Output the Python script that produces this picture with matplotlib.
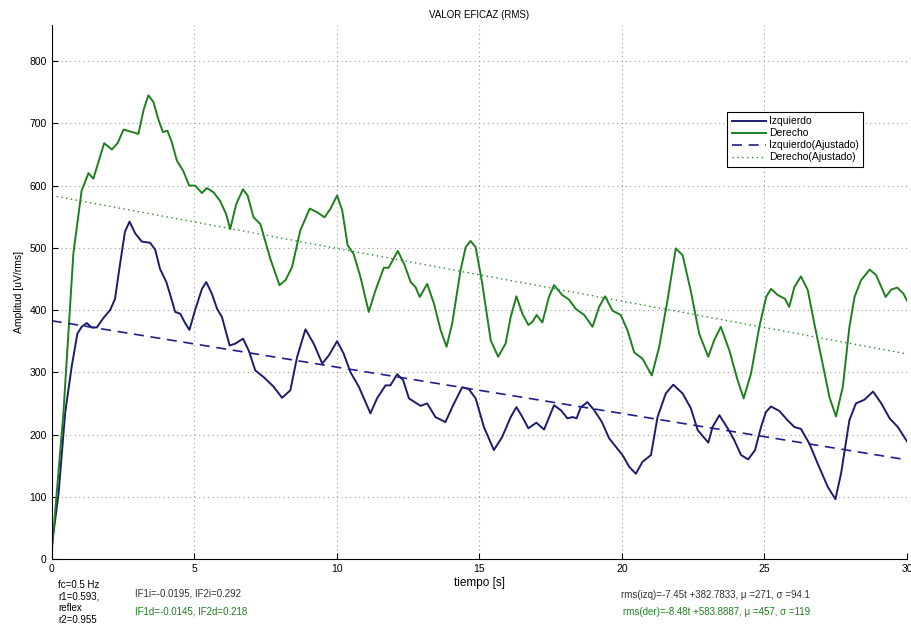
import numpy as np
import matplotlib.pyplot as plt

plt.rcParams['font.family'] = ['Liberation Sans', 'DejaVu Sans']

# RMS curves (time in s, amplitude in uV/rms)
t_izq = [0, 0.24, 0.47, 0.70, 0.90, 1.05, 1.23, 1.40, 1.58, 1.81, 2.05, 2.22, 2.40, 2.57, 2.73,
         2.93, 3.16, 3.45, 3.63, 3.80, 4.02, 4.18, 4.33, 4.51, 4.68, 4.83, 5.03, 5.27, 5.42, 5.62,
         5.80, 5.97, 6.24, 6.44, 6.71, 6.91, 7.14, 7.44, 7.78, 8.08, 8.37, 8.61, 8.90, 9.19, 9.49,
         9.72, 10.01, 10.24, 10.48, 10.77, 11.18, 11.41, 11.71, 11.88, 12.12, 12.33, 12.53, 12.94,
         13.17, 13.46, 13.81, 14.08, 14.40, 14.63, 14.87, 15.16, 15.51, 15.80, 16.10, 16.30, 16.51,
         16.72, 17.00, 17.27, 17.62, 17.86, 18.09, 18.27, 18.41, 18.56, 18.79, 19.03, 19.30, 19.55,
         20.02, 20.26, 20.49, 20.72, 21.02, 21.25, 21.54, 21.80, 22.13, 22.42, 22.66, 23.03, 23.18,
         23.42, 23.71, 23.94, 24.18, 24.43, 24.67, 24.88, 25.05, 25.23, 25.52, 25.81, 26.05, 26.28,
         26.58, 26.87, 27.22, 27.49, 27.69, 27.98, 28.21, 28.51, 28.81, 29.10, 29.39, 29.68, 30.0]
izquierdo = [20, 105, 234, 309, 362, 373, 379, 372, 372, 387, 400, 418, 475, 526, 542,
             523, 510, 508, 497, 466, 445, 421, 397, 394, 379, 368, 400, 434, 445, 426,
             402, 389, 343, 346, 354, 335, 303, 292, 277, 259, 271, 325, 369, 346, 314,
             327, 350, 330, 300, 277, 234, 258, 279, 279, 297, 287, 258, 246,
             250, 228, 220, 247, 276, 273, 258, 212, 175, 196, 228, 244, 228,
             210, 219, 208, 247, 239, 226, 228, 226, 244, 252, 239, 220, 194,
             167, 148, 137, 156, 167, 228, 266, 280, 266, 242, 207, 187, 212,
             231, 210, 191, 167, 160, 175, 212, 236, 245, 238, 223, 212, 209,
             185, 153, 116, 96, 138, 223, 250, 256, 269, 250, 226, 212, 189]

t_der = [0, 0.41, 0.76, 1.05, 1.29, 1.46, 1.84, 2.11, 2.31, 2.52, 2.81, 3.04, 3.22, 3.39, 3.57,
         3.75, 3.90, 4.06, 4.21, 4.39, 4.62, 4.82, 5.03, 5.27, 5.44, 5.68, 5.91, 6.12, 6.26, 6.47,
         6.71, 6.87, 7.08, 7.32, 7.67, 7.99, 8.20, 8.43, 8.72, 9.05, 9.31, 9.57, 9.78, 10.01, 10.19,
         10.38, 10.59, 10.83, 11.12, 11.36, 11.65, 11.82, 12.14, 12.38, 12.59, 12.76, 12.91, 13.17,
         13.41, 13.64, 13.85, 14.05, 14.34, 14.52, 14.69, 14.87, 15.10, 15.40, 15.66, 15.92, 16.10,
         16.30, 16.51, 16.72, 16.86, 17.01, 17.21, 17.44, 17.62, 17.91, 18.14, 18.38, 18.68, 18.97,
         19.20, 19.41, 19.67, 19.96, 20.20, 20.43, 20.72, 21.05, 21.31, 21.60, 21.89, 22.13, 22.42,
         22.71, 23.03, 23.24, 23.47, 23.77, 24.06, 24.27, 24.53, 24.82, 25.06, 25.23, 25.47, 25.72,
         25.87, 26.05, 26.28, 26.52, 26.75, 27.04, 27.28, 27.51, 27.75, 27.98, 28.16, 28.39, 28.69,
         28.92, 29.25, 29.45, 29.66, 29.88, 30.0]
derecho = [10, 234, 491, 592, 620, 611, 668, 658, 668, 690, 686, 683, 721, 745, 734,
           705, 686, 688, 670, 640, 623, 600, 600, 588, 596, 589, 575, 554, 530, 570,
           594, 584, 549, 538, 482, 440, 448, 469, 528, 563, 557, 549, 563, 584, 560,
           504, 490, 453, 397, 432, 468, 468, 495, 472, 445, 437, 421, 442,
           410, 368, 341, 379, 464, 501, 511, 501, 443, 351, 325, 346, 389,
           422, 394, 376, 381, 392, 380, 421, 440, 424, 417, 402, 392, 373,
           405, 422, 399, 392, 367, 332, 322, 295, 341, 416, 499, 488, 430,
           362, 325, 352, 373, 335, 287, 258, 298, 373, 421, 434, 424, 418,
           405, 437, 454, 432, 378, 314, 260, 229, 277, 373, 421, 448, 465,
           456, 421, 433, 436, 426, 415]

# linear fits given in the annotations
fit_izq = [-7.45, 382.7833]
fit_der = [-8.48, 583.8887]

c_izq = '#1c1c6e'
c_der = '#1e7f1e'

fig = plt.figure(figsize=(9.12, 6.29), dpi=100)
ax = fig.add_axes([0.0567, 0.1113, 0.9378, 0.849])

t_fit = np.array([0, 30])
ax.plot(t_izq, izquierdo, color=c_izq, lw=1.4, label='Izquierdo')
ax.plot(t_der, derecho, color=c_der, lw=1.4, label='Derecho')
ax.plot(t_fit, np.polyval(fit_izq, t_fit), color='#1f1f8c', lw=1.2, ls=(0, (6, 4)),
        label='Izquierdo(Ajustado)')
ax.plot(t_fit, np.polyval(fit_der, t_fit), color='#2a8a2a', lw=1.0, ls=(0, (1, 2.5)),
        label='Derecho(Ajustado)')

ax.set_xlim(0, 30)
ax.set_ylim(0, 858)
ax.set_xticks(range(0, 31, 5))
ax.set_yticks(range(0, 801, 100))
ax.grid(True, color='#9a9a9a', ls=(0, (1, 3)), lw=0.8)
ax.tick_params(direction='in', labelsize=7.5, length=4, width=0.8)
for s in ['top', 'right']:
    ax.spines[s].set_visible(False)

ax.set_title('VALOR EFICAZ (RMS)', fontsize=7, pad=5)
ax.set_xlabel('tiempo [s]', fontsize=8.5, labelpad=2)
ax.set_ylabel('Amplitud [uV/rms]', fontsize=7.5, labelpad=4)

leg = ax.legend(loc='upper left', bbox_to_anchor=(0.79, 0.837), borderaxespad=0,
                fontsize=7.5, fancybox=False, framealpha=1, edgecolor='black',
                handlelength=3.3, handletextpad=0.3, labelspacing=0.2, borderpad=0.4)
leg.get_frame().set_linewidth(0.8)

W, H = 912, 629
fig.text(58 / W, 1 - 580 / H, 'fc=0.5 Hz\nr1=0.593,\nreflex\nr2=0.955', fontsize=7,
         va='top', ha='left', linespacing=1.2)
fig.text(135 / W, 1 - 594 / H, 'IF1i=-0.0195, IF2i=0.292', fontsize=7, color='#333333',
         va='center')
fig.text(135 / W, 1 - 612 / H, 'IF1d=-0.0145, IF2d=0.218', fontsize=7, color=c_der,
         va='center')
fig.text(621 / W, 1 - 595 / H, 'rms(izq)=-7.45t +382.7833, \u03bc =271, \u03c3 =94.1',
         fontsize=7, color='#333333', va='center')
fig.text(623 / W, 1 - 612 / H, 'rms(der)=-8.48t +583.8887, \u03bc =457, \u03c3 =119',
         fontsize=7, color=c_der, va='center')

fig.savefig('out.png', dpi=100)
